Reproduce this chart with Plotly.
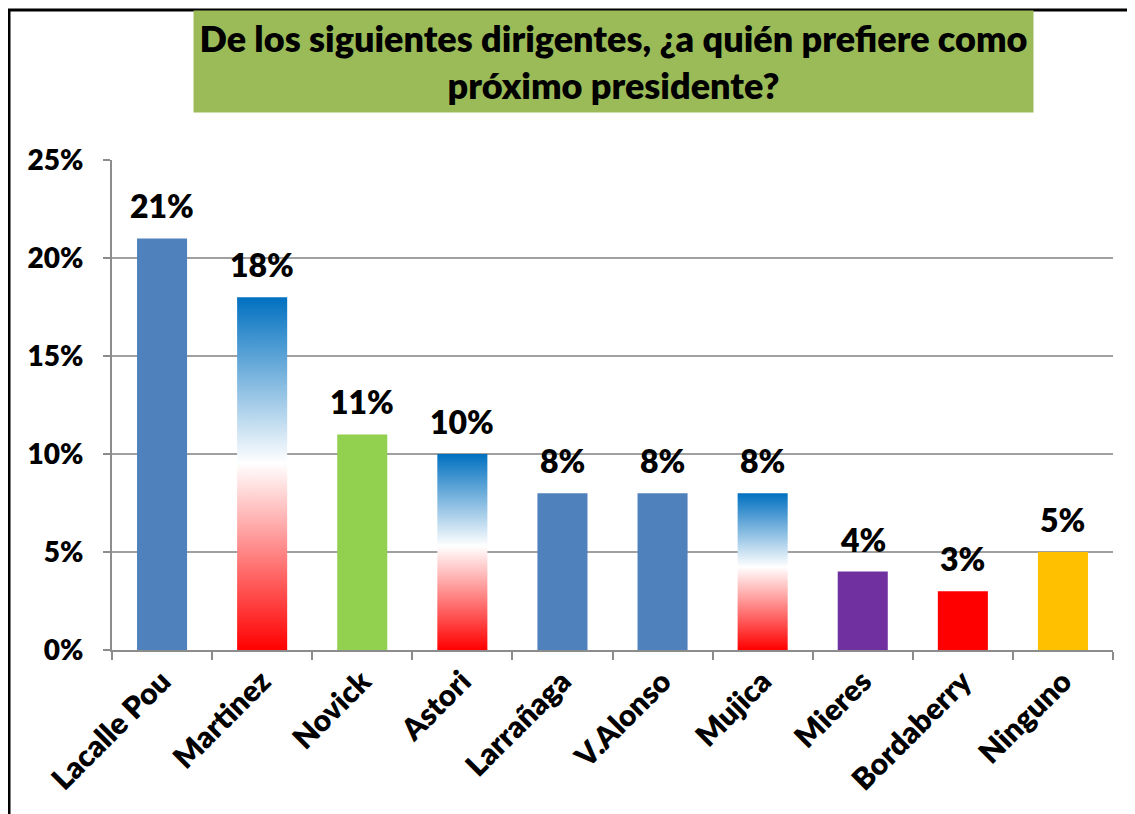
import plotly.graph_objects as go

categories = ["Lacalle Pou", "Martinez", "Novick", "Astori", "Larrañaga",
              "V.Alonso", "Mujica", "Mieres", "Bordaberry", "Ninguno"]
values = [0.21, 0.18, 0.11, 0.10, 0.08, 0.08, 0.08, 0.04, 0.03, 0.05]
labels = ["21%", "18%", "11%", "10%", "8%", "8%", "8%", "4%", "3%", "5%"]
y_ticks = [0, 0.05, 0.10, 0.15, 0.20, 0.25]
y_tick_labels = ["0%", "5%", "10%", "15%", "20%", "25%"]
title_text = "De los siguientes dirigentes, ¿a quién prefiere como<br>próximo presidente?"

# styling
bar_colors = ["#4F81BD", None, "#92D050", None, "#4F81BD",
              "#4F81BD", None, "#7030A0", "#FF0000", "#FFC000"]
gradient_scale = [[0, "#FF0000"], [0.53, "#FFFFFF"], [1, "#0070C0"]]
BAR_W = 0.5
FONT = "Lato"
WEIGHT = 800

fig = go.Figure()

idx = list(range(len(categories)))
solid_x = [i for i in idx if bar_colors[i] is not None]
fig.add_trace(go.Bar(
    x=solid_x,
    y=[values[i] for i in solid_x],
    width=BAR_W,
    marker=dict(color=[bar_colors[i] for i in solid_x], line=dict(width=0)),
    hoverinfo="skip",
    showlegend=False,
))

for i in idx:
    if bar_colors[i] is None:
        v = values[i]
        fig.add_trace(go.Scatter(
            x=[i - BAR_W / 2, i + BAR_W / 2, i + BAR_W / 2, i - BAR_W / 2, i - BAR_W / 2],
            y=[0, 0, v, v, 0],
            mode="lines",
            line=dict(width=0, color="rgba(0,0,0,0)"),
            fill="toself",
            fillgradient=dict(type="vertical", colorscale=gradient_scale, start=0, stop=v),
            hoverinfo="skip",
            showlegend=False,
        ))

for i in idx:
    fig.add_annotation(
        x=i, y=values[i], text=labels[i],
        showarrow=False, yanchor="bottom", yshift=11,
        font=dict(family=FONT, size=32, color="black", weight=WEIGHT),
    )

# title box
fig.add_annotation(
    x=0.501, y=1.201, xref="paper", yref="paper",
    xanchor="center", yanchor="middle",
    text=title_text,
    showarrow=False, bgcolor="#9BBB59",
    width=837, height=99,
    font=dict(family=FONT, size=36, color="black", weight=WEIGHT),
)

# outer border
fig.add_shape(type="rect", xref="paper", yref="paper",
              x0=-0.1029, x1=1.2, y0=-0.6, y1=1.3061,
              line=dict(color="black", width=3), layer="above")

fig.update_layout(
    width=1135, height=814,
    margin=dict(l=104, r=30, t=152, b=172, autoexpand=False),
    paper_bgcolor="white", plot_bgcolor="white",
    bargap=0.5,
    xaxis=dict(
        range=[-0.5, len(categories) - 0.5],
        tickmode="array", tickvals=idx, ticktext=categories,
        tickangle=-45, ticks="",
        tickfont=dict(family=FONT, size=30, color="black", weight=WEIGHT),
        showline=True, linecolor="#8C8C8C", linewidth=2,
        showgrid=False, zeroline=False, automargin=False,
        minor=dict(tickmode="linear", tick0=-0.5, dtick=1, ticks="outside",
                   ticklen=8, tickcolor="#8C8C8C", tickwidth=2, showgrid=False),
        fixedrange=True,
    ),
    yaxis=dict(
        range=[0, 0.25],
        tickmode="array", tickvals=y_ticks, ticktext=y_tick_labels,
        tickfont=dict(family=FONT, size=28, color="black", weight=WEIGHT),
        ticks="outside", ticklen=7, tickcolor="#8C8C8C", tickwidth=2,
        ticklabelstandoff=14,
        showline=True, linecolor="#8C8C8C", linewidth=2,
        showgrid=True, gridcolor="#A0A0A0", gridwidth=1.5,
        zeroline=False, automargin=False,
        fixedrange=True,
    ),
)

fig.write_html("out.html")
